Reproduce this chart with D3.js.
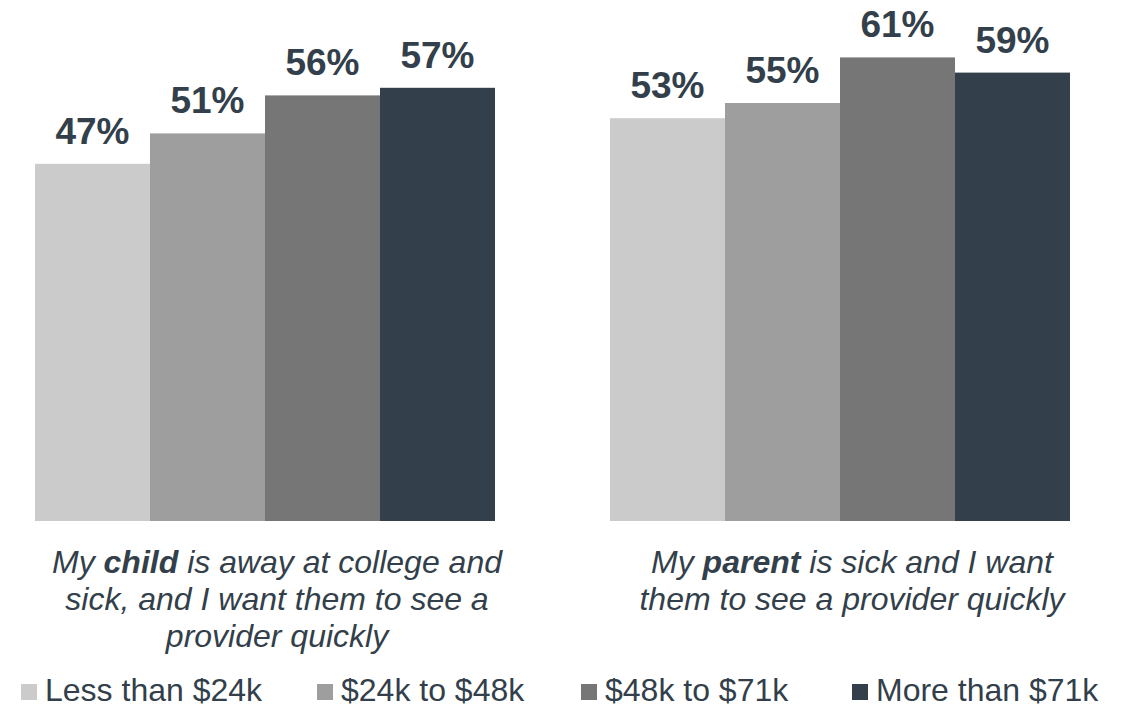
<!DOCTYPE html>
<html>
<head>
<meta charset="utf-8">
<script src="https://cdn.jsdelivr.net/npm/d3@7"></script>
<style>
  html, body { margin: 0; padding: 0; background: #ffffff; }
  svg { display: block; }
  text { font-family: "Liberation Sans", Arial, sans-serif; }
</style>
</head>
<body>
<svg id="chart" width="1123" height="709"></svg>
<script>
// Income bands (legend order) and their fills
const incomeBands = ["Less than $24k", "$24k to $48k", "$48k to $71k", "More than $71k"];
const bandColors = ["#cbcbcb", "#9e9e9e", "#767676", "#333f4a"];

// Scenarios shown as groups
const scenarios = ["child", "parent"];

// Share who want a provider quickly, by income band (%)
const childValues = [47, 51, 56, 57];
const parentValues = [53, 55, 61, 59];

// Caption lines per scenario: [plain, bold, plain] pieces
const childCaption = [
  ["My ", "child", " is away at college and"],
  ["sick, and I want them to see a", "", ""],
  ["provider quickly", "", ""]
];
const parentCaption = [
  ["My ", "parent", " is sick and I want"],
  ["them to see a provider quickly", "", ""]
];

const seriesByScenario = { child: childValues, parent: parentValues };
const captionByScenario = { child: childCaption, parent: parentCaption };

const textColor = "#333f4a";
const svg = d3.select("#chart");

const baseline = 521;
const x0 = d3.scaleBand().domain(scenarios).range([35, 1070]).paddingInner(0.2).paddingOuter(0);
const x1 = d3.scaleBand().domain(incomeBands).range([0, x0.bandwidth()]).padding(0);
const y = d3.scaleLinear().domain([0, 100]).range([baseline, baseline - 760]);
const color = d3.scaleOrdinal().domain(incomeBands).range(bandColors);

const groups = svg.selectAll("g.group")
  .data(scenarios)
  .join("g")
  .attr("class", "group")
  .attr("transform", d => `translate(${x0(d)},0)`);

// Bars
groups.selectAll("rect")
  .data(s => seriesByScenario[s].map((v, i) => ({ band: incomeBands[i], value: v })))
  .join("rect")
  .attr("x", d => x1(d.band))
  .attr("y", d => y(d.value))
  .attr("width", x1.bandwidth())
  .attr("height", d => baseline - y(d.value))
  .attr("fill", d => color(d.band));

// Value labels
groups.selectAll("text.value")
  .data(s => seriesByScenario[s].map((v, i) => ({ band: incomeBands[i], value: v })))
  .join("text")
  .attr("class", "value")
  .attr("x", d => x1(d.band) + x1.bandwidth() / 2)
  .attr("y", d => y(d.value) - 20)
  .attr("text-anchor", "middle")
  .attr("font-size", 37)
  .attr("font-weight", "bold")
  .attr("fill", textColor)
  .text(d => d.value + "%");

// Captions under each group
const lineHeight = 37;
groups.each(function(s) {
  const g = d3.select(this);
  const lines = captionByScenario[s];
  lines.forEach((parts, li) => {
    const t = g.append("text")
      .attr("x", x0.bandwidth() / 2 + 12)
      .attr("y", 573 + li * lineHeight)
      .attr("text-anchor", "middle")
      .attr("font-size", 32)
      .attr("font-style", "italic")
      .attr("fill", textColor);
    parts.forEach((p, pi) => {
      if (!p) return;
      t.append("tspan")
        .attr("font-weight", pi === 1 ? "bold" : "normal")
        .text(p);
    });
  });
});

// Legend
const legendX = [21, 317, 581, 852];
const legend = svg.selectAll("g.legend")
  .data(incomeBands)
  .join("g")
  .attr("class", "legend")
  .attr("transform", (d, i) => `translate(${legendX[i]},0)`);

legend.append("rect")
  .attr("x", 0)
  .attr("y", 684)
  .attr("width", 16)
  .attr("height", 16)
  .attr("fill", d => color(d));

legend.append("text")
  .attr("x", 24)
  .attr("y", 701)
  .attr("font-size", 32)
  .attr("fill", textColor)
  .text(d => d);
</script>
</body>
</html>
